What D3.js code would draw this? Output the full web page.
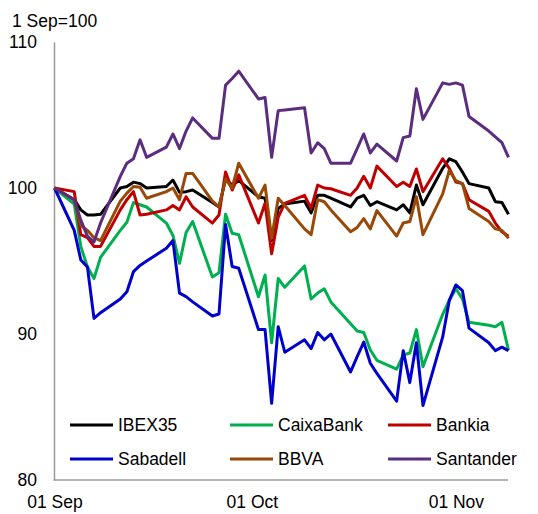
<!DOCTYPE html>
<html>
<head>
<meta charset="utf-8">
<script src="https://cdn.jsdelivr.net/npm/d3@7"></script>
<style>
  body { margin: 0; background: #fff; }
  text { font-family: "Liberation Sans", Arial, sans-serif; }
</style>
</head>
<body>
<div id="chart"></div>
<script>
// trading days, 1 Sep - 9 Nov 2017
const dates = [
  "2017-09-01",
  "2017-09-04", "2017-09-05", "2017-09-06", "2017-09-07", "2017-09-08",
  "2017-09-11", "2017-09-12", "2017-09-13", "2017-09-14", "2017-09-15",
  "2017-09-18", "2017-09-19", "2017-09-20", "2017-09-21", "2017-09-22",
  "2017-09-25", "2017-09-26", "2017-09-27", "2017-09-28", "2017-09-29",
  "2017-10-02", "2017-10-03", "2017-10-04", "2017-10-05", "2017-10-06",
  "2017-10-09", "2017-10-10", "2017-10-11", "2017-10-12", "2017-10-13",
  "2017-10-16", "2017-10-17", "2017-10-18", "2017-10-19", "2017-10-20",
  "2017-10-23", "2017-10-24", "2017-10-25", "2017-10-26", "2017-10-27",
  "2017-10-30", "2017-10-31", "2017-11-01", "2017-11-02", "2017-11-03",
  "2017-11-06", "2017-11-07", "2017-11-08", "2017-11-09"
];

const ibex35 = [
  100,
  99.2, 98.5, 98.15, 98.15, 98.2,
  100.0, 100.1, 100.4, 100.3, 100.0,
  100.1, 100.55, 99.7, 99.75, 99.86,
  99.0, 98.7, 100.6, 100.2, 100.5,
  99.4, 99.3, 96.4, 98.6, 98.9,
  99.1, 98.3, 99.5, 99.5, 99.3,
  98.7, 99.3, 99.5, 98.8, 99.06,
  98.5, 98.85, 98.3, 100.2, 98.85,
  101.35, 102.0, 101.8, 101.1, 100.3,
  100.0, 99.06, 99.0, 98.2
];

const caixaBank = [
  100,
  98.9, 96.0, 94.6, 93.8, 95.25,
  97.1, 97.65, 99.0, 98.85, 98.7,
  97.6, 96.75, 94.84, 96.95, 97.7,
  93.9, 94.2, 98.2, 96.9, 96.8,
  92.55, 94.04, 89.4, 93.8, 93.2,
  94.66, 92.4, 92.8, 93.1, 92.2,
  90.7, 90.2, 90.1, 88.9, 88.2,
  87.6, 88.56, 88.7, 90.3, 87.76,
  91.35, 92.3, 93.1, 92.4, 90.8,
  90.6, 90.5, 90.8, 88.9
];

const bankia = [
  100,
  99.75, 96.8, 96.6, 96.0, 96.0,
  98.5, 99.2, 99.75, 98.15, 98.2,
  98.5, 98.8, 98.5, 99.4, 98.7,
  97.6, 98.15, 101.1, 99.86, 100.9,
  97.6, 98.95, 95.5, 98.0, 98.95,
  99.5, 98.6, 100.2, 100.0, 99.95,
  99.5, 100.0, 100.8, 100.0, 101.5,
  100.1, 100.4, 100.1, 101.3, 99.75,
  102.0, 101.35, 100.4, 100.3, 99.2,
  98.4, 97.6, 97.0, 96.7
];

const sabadell = [
  100,
  97.1, 95.07, 94.6, 91.07, 91.46,
  92.4, 92.9, 94.27, 94.7, 95.0,
  95.87, 96.4, 92.8, 92.56, 92.2,
  91.23, 91.37, 97.5, 94.62, 94.5,
  90.3, 90.3, 85.25, 90.5, 88.75,
  89.6, 89.0, 90.1, 89.6, 90.0,
  87.4, 88.45, 89.45, 88.0, 87.3,
  85.4, 88.86, 86.67, 89.4, 85.1,
  89.8, 92.3, 93.36, 92.97, 90.4,
  89.4, 88.86, 89.1, 88.86
];

const bbva = [
  100,
  99.2, 97.45, 97.1, 96.6, 96.4,
  99.1, 99.65, 100.1, 100.05, 99.3,
  99.75, 100.0, 99.2, 101.0, 101.0,
  99.1, 98.7, 100.6, 100.0, 101.7,
  99.3, 100.2, 96.55, 99.3, 98.8,
  97.2, 96.8, 99.2, 99.06, 98.5,
  97.0, 97.3, 97.9, 97.2, 98.45,
  96.7, 97.6, 97.7, 99.4, 96.8,
  99.6, 101.2, 100.5, 100.3, 98.6,
  97.7, 97.2, 97.1, 96.55
];

const santander = [
  100,
  99.2, 97.8, 96.7, 96.3, 97.6,
  100.8, 101.7, 102.0, 103.3, 102.1,
  102.8, 103.7, 102.7, 103.9, 104.8,
  103.4, 103.4, 107.05, 107.5, 108.0,
  106.1, 106.2, 102.1, 105.3, 105.35,
  105.5, 102.4, 103.1, 102.7, 101.7,
  101.7, 102.7, 103.7, 102.4, 103.0,
  101.85, 103.45, 103.56, 106.8, 104.7,
  107.2, 107.1, 107.2, 107.05, 104.9,
  103.9, 103.5, 103.1, 102.1
];

const seriesNames = ["IBEX35", "CaixaBank", "Bankia", "Sabadell", "BBVA", "Santander"];
const seriesValues = [ibex35, caixaBank, bankia, sabadell, bbva, santander];
const seriesColors = ["#000000", "#00B050", "#C00000", "#0000CC", "#984807", "#5B2D7E"];

const yTicks = [80, 90, 100, 110];
const xTicks = ["2017-09-01", "2017-10-01", "2017-11-01"];

const width = 538;
const height = 514;
const fontSize = "17.5px";

const parse = d3.utcParse("%Y-%m-%d");
const parsedDates = dates.map(parse);

const svg = d3.select("#chart")
  .append("svg")
  .attr("width", width)
  .attr("height", height);

const x = d3.scaleUtc()
  .domain([parsedDates[0], parsedDates[parsedDates.length - 1]])
  .range([54.5, 508.5]);

const y = d3.scaleLinear()
  .domain([80, 110])
  .range([480, 42]);

// axes
const xAxis = svg.append("g")
  .attr("transform", "translate(0,480)")
  .call(d3.axisBottom(x)
    .tickValues(xTicks.map(parse))
    .tickFormat(d3.utcFormat("%d %b"))
    .tickSize(0)
    .tickPadding(16));

const yAxis = svg.append("g")
  .attr("transform", "translate(54,0)")
  .call(d3.axisLeft(y)
    .tickValues(yTicks)
    .tickSize(0)
    .tickPadding(17));

[xAxis, yAxis].forEach(g => {
  g.select(".domain").attr("stroke", "#9a9a9a").attr("stroke-width", 1.5);
  g.selectAll("text")
    .style("font-size", fontSize)
    .style("font-family", '"Liberation Sans", Arial, sans-serif')
    .attr("fill", "#000");
});
xAxis.select(".domain").attr("d", "M53.5,0H508");

// unit label
svg.append("text")
  .attr("x", 12)
  .attr("y", 27)
  .style("font-size", fontSize)
  .text("1 Sep=100");

// lines
const line = d3.line()
  .x((d, i) => x(parsedDates[i]))
  .y(d => y(d));

svg.append("g")
  .selectAll("path")
  .data(seriesValues)
  .enter()
  .append("path")
  .attr("d", line)
  .attr("fill", "none")
  .attr("stroke", (d, i) => seriesColors[i])
  .attr("stroke-width", 3)
  .attr("stroke-linejoin", "round");

// legend
const legendCols = [70, 230, 388];
const legendRows = [425, 459];

const legend = svg.append("g")
  .selectAll("g")
  .data(seriesNames)
  .enter()
  .append("g")
  .attr("transform", (d, i) =>
    "translate(" + legendCols[i % 3] + "," + legendRows[Math.floor(i / 3)] + ")");

legend.append("line")
  .attr("x1", 0)
  .attr("x2", 43)
  .attr("stroke", (d, i) => seriesColors[i])
  .attr("stroke-width", 3);

legend.append("text")
  .attr("x", 48)
  .attr("dy", "0.35em")
  .style("font-size", fontSize)
  .text(d => d);
</script>
</body>
</html>
